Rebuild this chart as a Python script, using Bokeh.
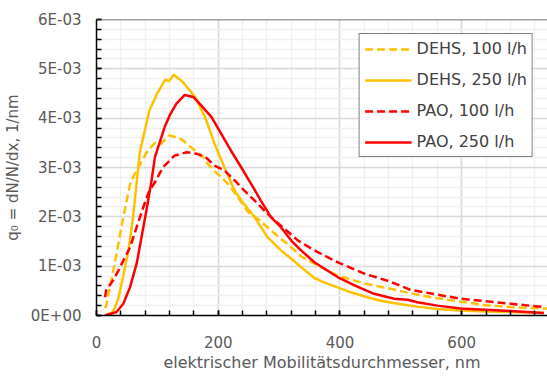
from bokeh.plotting import figure
from bokeh.models import FixedTicker, CustomJSTickFormatter, Range1d, Span, Legend, LegendItem
from bokeh.embed import file_html
from bokeh.resources import INLINE

# ---- data (x in nm, y in 1/nm) ----
dehs100_x = [14, 16, 20, 25, 33, 41, 49, 55, 62, 71, 82, 96, 105, 120, 135, 142, 158, 175, 183, 199, 216, 232, 249, 268, 281, 303, 314, 336, 358, 396, 440, 484, 516, 555, 598, 640, 680, 740]
dehs100_y = [0.15, 0.2, 0.45, 0.75, 1.25, 1.8, 2.3, 2.65, 2.85, 3.05, 3.3, 3.5, 3.47, 3.65, 3.6, 3.55, 3.38, 3.22, 3.07, 2.87, 2.67, 2.4, 2.1, 1.93, 1.79, 1.55, 1.45, 1.2, 1.05, 0.81, 0.65, 0.54, 0.45, 0.36, 0.28, 0.21, 0.17, 0.14]

dehs250_x = [17, 25, 30, 36, 44, 53, 60, 66, 71, 82, 87, 101, 113, 119, 127, 142, 156, 164, 180, 194, 210, 227, 238, 260, 281, 303, 320, 336, 358, 374, 396, 418, 445, 467, 495, 527, 560, 598, 640, 680, 735]
dehs250_y = [0.02, 0.05, 0.15, 0.35, 0.8, 1.35, 2.0, 2.7, 3.3, 3.89, 4.16, 4.53, 4.78, 4.75, 4.88, 4.73, 4.52, 4.39, 3.97, 3.48, 3.01, 2.53, 2.33, 1.99, 1.59, 1.32, 1.15, 0.98, 0.76, 0.67, 0.57, 0.47, 0.37, 0.30, 0.24, 0.18, 0.13, 0.10, 0.08, 0.07, 0.05]

pao100_x = [14, 16, 27, 36, 44, 55, 66, 77, 87, 96, 109, 128, 148, 164, 180, 194, 210, 227, 243, 260, 281, 303, 331, 358, 396, 440, 484, 516, 598, 680, 735]
pao100_y = [0.37, 0.51, 0.71, 0.91, 1.11, 1.38, 1.79, 2.2, 2.53, 2.7, 3.0, 3.24, 3.31, 3.28, 3.2, 3.04, 2.94, 2.74, 2.53, 2.33, 2.06, 1.82, 1.52, 1.32, 1.08, 0.85, 0.68, 0.52, 0.34, 0.24, 0.17]

pao250_x = [14, 33, 44, 55, 66, 74, 82, 90, 96, 112, 120, 131, 145, 159, 172, 189, 205, 221, 238, 254, 270, 287, 303, 320, 336, 358, 396, 424, 456, 489, 511, 527, 560, 598, 680, 735]
pao250_y = [0.0, 0.07, 0.24, 0.57, 1.05, 1.59, 2.13, 2.7, 3.21, 3.82, 4.05, 4.29, 4.47, 4.43, 4.26, 4.02, 3.68, 3.34, 3.0, 2.67, 2.33, 1.99, 1.79, 1.52, 1.32, 1.08, 0.78, 0.61, 0.44, 0.34, 0.32, 0.27, 0.20, 0.14, 0.09, 0.05]

series_names = ["DEHS, 100 l/h", "DEHS, 250 l/h", "PAO, 100 l/h", "PAO, 250 l/h"]

x_ticks = [0, 200, 400, 600]
x_minor = list(range(0, 760, 40))
y_ticks = [0, 1e-3, 2e-3, 3e-3, 4e-3, 5e-3, 6e-3]
y_minor = [i * 2e-4 for i in range(31)]

FONT = "DejaVu Sans"
TXT = "#595959"

p = figure(width=547, height=378, output_backend="svg", toolbar_location=None,
           x_range=Range1d(0, 741), y_range=Range1d(0, 6e-3),
           min_border_left=95, min_border_right=0, min_border_top=19, min_border_bottom=63)
p.outline_line_color = None
p.background_fill_color = "white"
p.border_fill_color = "white"

def sc(v):
    return [a * 1e-3 for a in v]

r1 = p.line(dehs100_x, sc(dehs100_y), line_color="#FFC000", line_width=2.5, line_dash="8 4")
r2 = p.line(dehs250_x, sc(dehs250_y), line_color="#FFC000", line_width=2.5)
r3 = p.line(pao100_x, sc(pao100_y), line_color="#FF0000", line_width=2.5, line_dash="8 4")
r4 = p.line(pao250_x, sc(pao250_y), line_color="#FF0000", line_width=2.5)

# top border
p.add_layout(Span(location=6e-3, dimension="width", line_color="#404040", line_width=1.5))

p.xaxis.ticker = FixedTicker(ticks=x_ticks, minor_ticks=x_minor)
p.yaxis.ticker = FixedTicker(ticks=y_ticks, minor_ticks=y_minor)
p.yaxis.formatter = CustomJSTickFormatter(code="""
const parts = tick.toExponential(0).split('e');
const n = parseInt(parts[1]);
return parts[0] + 'E' + (n < 0 ? '-' : '+') + String(Math.abs(n)).padStart(2, '0');
""")

for ax in (p.xaxis[0], p.yaxis[0]):
    ax.axis_line_color = "black"
    ax.axis_line_width = 1.5
    ax.major_tick_in = 5
    ax.major_tick_out = 0
    ax.minor_tick_in = 5
    ax.minor_tick_out = 0
    ax.major_tick_line_color = "black"
    ax.minor_tick_line_color = "black"
    ax.major_tick_line_width = 1.5
    ax.minor_tick_line_width = 1.5
    ax.major_label_text_font = FONT
    ax.major_label_text_font_size = "15px"
    ax.major_label_text_color = TXT
    ax.axis_label_text_font = FONT
    ax.axis_label_text_color = TXT
    ax.axis_label_text_font_style = "normal"

p.xaxis.axis_label = "elektrischer Mobilitätsdurchmesser, nm"
p.yaxis.axis_label = "q\u2080 = dN/N/dx, 1/nm"
p.xaxis.axis_label_text_font_size = "16px"
p.yaxis.axis_label_text_font_size = "15px"
p.xaxis.major_label_standoff = 20
p.xaxis.axis_label_standoff = 2
p.yaxis.major_label_standoff = 15
p.yaxis.axis_label_standoff = 6

p.xgrid.grid_line_color = "#d9d9d9"
p.ygrid.grid_line_color = "#d9d9d9"
p.xgrid.minor_grid_line_color = "#f0f0f0"
p.ygrid.minor_grid_line_color = "#f0f0f0"
p.xgrid.grid_line_width = 1.5
p.ygrid.grid_line_width = 1.5
p.xgrid.minor_grid_line_width = 1.5
p.ygrid.minor_grid_line_width = 1.5

legend = Legend(items=[LegendItem(label=series_names[0], renderers=[r1]),
                       LegendItem(label=series_names[1], renderers=[r2]),
                       LegendItem(label=series_names[2], renderers=[r3]),
                       LegendItem(label=series_names[3], renderers=[r4])],
                location="top_right", margin=14)
legend.border_line_color = "black"
legend.border_line_width = 1.5
legend.background_fill_alpha = 1.0
legend.padding = 5
legend.spacing = 12
legend.glyph_width = 47
legend.glyph_height = 18
legend.label_height = 18
legend.label_standoff = 5
legend.label_text_font = FONT
legend.label_text_font_size = "16px"
legend.label_text_color = "#404040"
p.add_layout(legend)

open("out.html", "w").write(file_html(p, INLINE))
